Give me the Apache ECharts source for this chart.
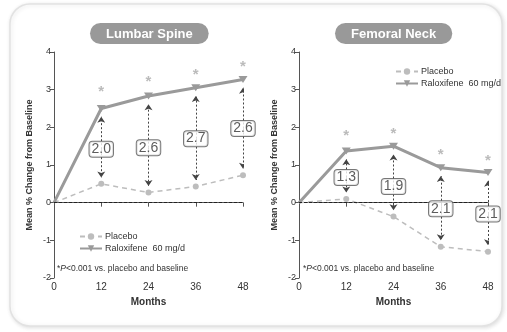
<!DOCTYPE html>
<html><head><meta charset="utf-8">
<script src="https://cdn.jsdelivr.net/npm/echarts@6/dist/echarts.min.js"></script>
<style>html,body{margin:0;padding:0;background:#fff}#c{width:507px;height:332px}</style>
</head><body><div id="c"></div>
<script>
var months = [0, 12, 24, 36, 48];
var spineRalox = [0, 2.5, 2.83, 3.05, 3.27];
var spinePlacebo = [0, 0.5, 0.27, 0.43, 0.73];
var spineDiff = ['2.0', '2.6', '2.7', '2.6'];
var spineDiffY = [1.42, 1.46, 1.7, 1.97];
var spineStarY = [2.93, 3.2, 3.38, 3.6];

var neckRalox = [0, 1.37, 1.5, 0.93, 0.8];
var neckPlacebo = [0, 0.1, -0.37, -1.17, -1.3];
var neckDiff = ['1.3', '1.9', '2.1', '2.1'];
var neckDiffY = [0.67, 0.43, -0.16, -0.3];
var neckStarY = [1.78, 1.84, 1.28, 1.12];

var yTicks = [-2, -1, 0, 1, 2, 3, 4];
var xTicks = [0, 12, 24, 36, 48];

var FONT = 'Liberation Sans, Arial, sans-serif';
var RCOL = '#9a9a9a', PCOL = '#bdbdbd';

function pairs(ys) { return months.map(function (m, i) { return [m, ys[i]]; }); }

function buildSeries(idx, ralox, placebo, diff, diffY, starY) {
  var ser = [];
  ser.push({
    name: 'Placebo', type: 'line', xAxisIndex: idx, yAxisIndex: idx,
    data: pairs(placebo).map(function (p, i) { return i === 0 ? { value: p, symbol: 'none' } : p; }),
    symbol: 'circle', symbolSize: 6, z: 3,
    itemStyle: { color: PCOL }, lineStyle: { color: PCOL, width: 1.5, type: [5, 4] }
  });
  ser.push({
    name: 'Raloxifene  60 mg/d', type: 'line', xAxisIndex: idx, yAxisIndex: idx,
    data: pairs(ralox).map(function (p, i) { return i === 0 ? { value: p, symbol: 'none' } : p; }),
    symbol: 'triangle', symbolRotate: 180, symbolSize: [9, 7], z: 4,
    itemStyle: { color: RCOL }, lineStyle: { color: RCOL, width: 3 },
    markLine: { silent: true, symbol: 'none', label: { show: false },
      lineStyle: { color: '#222', width: 1, type: [3, 2] }, data: [{ yAxis: 0 }] }
  });
  var arrows = [];
  for (var i = 1; i < months.length; i++) {
    var lo = Math.min(ralox[i], placebo[i]), hi = Math.max(ralox[i], placebo[i]);
    arrows.push({ coords: [[months[i], diffY[i - 1]], [months[i], hi - 0.22]] });
    arrows.push({ coords: [[months[i], diffY[i - 1]], [months[i], lo + 0.17]] });
  }
  ser.push({
    type: 'lines', coordinateSystem: 'cartesian2d', xAxisIndex: idx, yAxisIndex: idx,
    data: arrows, symbol: ['none', 'arrow'], symbolSize: 6, z: 2, silent: true,
    lineStyle: { color: '#444', width: 1, type: [2, 2], opacity: 1 }
  });
  ser.push({
    type: 'scatter', xAxisIndex: idx, yAxisIndex: idx, symbolSize: 0, z: 6, silent: true,
    data: diff.map(function (d, i) { return { value: [months[i + 1], diffY[i]], name: d }; }),
    label: { show: true, position: 'inside', formatter: '{b}', fontFamily: FONT, fontSize: 14,
      color: '#333', backgroundColor: '#fff', borderColor: '#555', borderWidth: 1,
      borderRadius: 3, padding: [1, 2, 0, 2], lineHeight: 14 }
  });
  ser.push({
    type: 'scatter', xAxisIndex: idx, yAxisIndex: idx, symbolSize: 0, z: 6, silent: true,
    data: starY.map(function (s, i) { return [months[i + 1], s]; }),
    label: { show: true, position: 'inside', formatter: '*', fontFamily: FONT, fontSize: 15,
      color: '#aaa', fontWeight: 'bold' }
  });
  return ser;
}

function xAx(idx) {
  return { type: 'value', gridIndex: idx, min: 0, max: 48, interval: 12,
    name: 'Months', nameLocation: 'middle', nameGap: 19,
    nameTextStyle: { fontFamily: FONT, fontSize: 10, fontWeight: 'bold', color: '#333' },
    axisLine: { lineStyle: { color: '#555', width: 1 } },
    axisTick: { show: true, length: 4, lineStyle: { color: '#555' } },
    axisLabel: { fontFamily: FONT, fontSize: 10, color: '#333', margin: 4,
      formatter: function (v) { return xTicks.indexOf(v) >= 0 ? String(v) : ''; } },
    splitLine: { show: false } };
}
function yAx(idx) {
  return { type: 'value', gridIndex: idx, min: -2, max: 4, interval: 1,
    name: 'Mean % Change from Baseline', nameLocation: 'middle', nameGap: 20,
    nameTextStyle: { fontFamily: FONT, fontSize: 9, fontWeight: 'bold', color: '#333' },
    axisLine: { show: true, lineStyle: { color: '#555', width: 1 } },
    axisTick: { show: true, length: 4, lineStyle: { color: '#555' } },
    axisLabel: { fontFamily: FONT, fontSize: 9, color: '#333', margin: 3,
      formatter: function (v) { return yTicks.indexOf(v) >= 0 ? String(v) : ''; } },
    splitLine: { show: false } };
}

var chart = echarts.init(document.getElementById('c'), null, { renderer: 'canvas' });
var pill = function (text, left) {
  return { text: text, left: left, top: 23, backgroundColor: '#999', borderRadius: 11,
    padding: [4, 16, 3, 16],
    textStyle: { fontFamily: FONT, fontSize: 13, fontWeight: 'bold', color: '#fff', lineHeight: 14 } };
};
var legendCommon = {
  orient: 'vertical', itemWidth: 22, itemHeight: 8, itemGap: 3,
  textStyle: { fontFamily: FONT, fontSize: 9, color: '#333', padding: [0, 0, 0, -2] },
  data: ['Placebo', 'Raloxifene  60 mg/d'], selectedMode: false
};
var foot = function (x, y) {
  return { type: 'text', left: x, top: y, z: 10,
    style: { text: '{a|*}{b|P}{a|<0.001 vs. placebo and baseline}',
      rich: { a: { fontFamily: FONT, fontSize: 8.5, fill: '#333' },
              b: { fontFamily: FONT, fontSize: 8.5, fontStyle: 'italic', fill: '#333' } } } };
};

chart.setOption({
  animation: false,
  backgroundColor: '#fff',
  title: [pill('Lumbar Spine', 90), pill('Femoral Neck', 335)],
  legend: [
    Object.assign({ left: 74, top: 227 }, legendCommon),
    Object.assign({ left: 390, top: 62 }, legendCommon)
  ],
  grid: [
    { left: 54, top: 52, width: 189, height: 226 },
    { left: 299, top: 52, width: 189, height: 226 }
  ],
  xAxis: [xAx(0), xAx(1)],
  yAxis: [yAx(0), yAx(1)],
  graphic: [
    { type: 'rect', z: -10, shape: { x: 10, y: 4, width: 492, height: 322, r: 20 },
      style: { fill: '#fff', stroke: '#e2e2e2', lineWidth: 1.5,
        shadowBlur: 4, shadowColor: 'rgba(0,0,0,0.12)', shadowOffsetX: 1, shadowOffsetY: 1 } },
    foot(57, 264), foot(303, 264)
  ],
  series: buildSeries(0, spineRalox, spinePlacebo, spineDiff, spineDiffY, spineStarY)
    .concat(buildSeries(1, neckRalox, neckPlacebo, neckDiff, neckDiffY, neckStarY))
});
</script></body></html>
